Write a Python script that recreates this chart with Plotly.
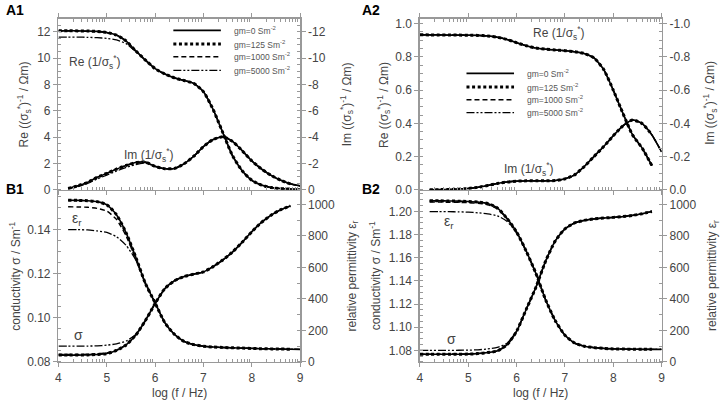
import math
import plotly.graph_objects as go

# ---------------- data ----------------
LOGF = [4.0, 4.2, 4.4, 4.6, 4.8, 5.0, 5.2, 5.4, 5.6, 5.8, 6.0, 6.2, 6.4,
        6.6, 6.8, 7.0, 7.2, 7.4, 7.6, 7.8, 8.0, 8.2, 8.4, 8.6, 8.8, 9.0]

SERIES = ["gm=0 Sm<sup>-2</sup>", "gm=125 Sm<sup>-2</sup>",
          "gm=1000 Sm<sup>-2</sup>", "gm=5000 Sm<sup>-2</sup>"]

# A1: Re(1/sigma*) [Ohm m], Im(1/sigma*) [Ohm m]
A1_RE_0 = [12.08, 12.08, 12.07, 12.06, 12.03, 11.95, 11.75, 11.3, 10.55, 9.85, 9.2, 8.8, 8.5,
           8.3, 8.08, 7.45, 6.1, 4.35, 2.6, 1.45, 0.72, 0.36, 0.17, 0.09, 0.05, 0.03]
A1_RE_125 = A1_RE_0[:-1] + [None]
A1_RE_1000 = [12.06, 12.06, 12.05, 12.04, 12.01, 11.93, 11.74, 11.3] + A1_RE_0[8:]
A1_RE_5000 = [11.6, 11.6, 11.6, 11.58, 11.55, 11.5, 11.38, 11.1, 10.5, 9.83] + A1_RE_0[10:]

A1_IM_0 = [None, -0.1, -0.3, -0.56, -0.95, -1.25, -1.57, -1.85, -2.07, -2.1, -1.78, -1.6, -1.62,
           -1.98, -2.55, -3.28, -3.82, -4.02, -3.68, -2.98, -2.2, -1.58, -1.1, -0.72, -0.45, -0.3]
A1_IM_125 = A1_IM_0[:-1] + [None]
A1_IM_1000 = A1_IM_0[:]
A1_IM_5000 = [None, -0.08, -0.25, -0.48, -0.82, -1.12, -1.42, -1.7, -1.92, -2.03] + A1_IM_0[10:]

# B1: conductivity [S/m], relative permittivity
B1_SIG_0 = [0.0831, 0.0831, 0.0831, 0.0832, 0.0834, 0.0838, 0.0852, 0.0877, 0.0922, 0.0988, 0.1065,
            0.1132, 0.1168, 0.1187, 0.1198, 0.1208, 0.1232, 0.1262, 0.1298, 0.1342, 0.139,
            0.1432, 0.1465, 0.149, 0.1507, None]
B1_SIG_125 = B1_SIG_0[:]
B1_SIG_1000 = [0.0834, 0.0834, 0.0834, 0.0835, 0.0837, 0.0841, 0.0854, 0.0878] + B1_SIG_0[8:]
B1_SIG_5000 = [0.0872, 0.0872, 0.0872, 0.0872, 0.0873, 0.0876, 0.0882, 0.0895, 0.0925] + B1_SIG_0[9:]

B1_EPS_0 = [None, 1027, 1026, 1024, 1018, 998, 935, 820, 665, 498, 375, 250, 175,
            130, 110, 100, 95, 92, 90, 88, 86, 84, 83, 82, 81, 80]
B1_EPS_125 = B1_EPS_0[:-1] + [None]
B1_EPS_1000 = [None, 985, 984, 982, 975, 958, 905, 800, 652, 495] + B1_EPS_0[10:]
B1_EPS_5000 = [None, 840, 840, 838, 832, 822, 795, 740, 648, 505] + B1_EPS_0[10:]

# A2
A2_RE_0 = [0.933, 0.932, 0.932, 0.931, 0.931, 0.930, 0.929, 0.926, 0.918, 0.905, 0.885, 0.867, 0.853,
           0.846, 0.841, 0.837, 0.831, 0.82, 0.794, 0.725, 0.6, 0.46, 0.33, 0.25, 0.145, None]
A2_RE_125 = A2_RE_0[:]
A2_RE_1000 = A2_RE_0[:]
A2_RE_5000 = A2_RE_0[:]

A2_IM_0 = [None, 0.0, -0.001, -0.002, -0.004, -0.008, -0.015, -0.026, -0.038, -0.047, -0.052, -0.054,
           -0.054, -0.054, -0.056, -0.066, -0.09, -0.14, -0.2, -0.26, -0.325, -0.385, -0.42,
           -0.398, -0.33, -0.228]
A2_IM_125 = A2_IM_0[:-1] + [None]
A2_IM_1000 = A2_IM_0[:]
A2_IM_5000 = A2_IM_0[:]

# B2
B2_SIG_0 = [1.0766, 1.0766, 1.0766, 1.0766, 1.0767, 1.0768, 1.0772, 1.0781, 1.0795, 1.0848, 1.0965,
            1.1155, 1.1345, 1.157, 1.1745, 1.1848, 1.19, 1.1922, 1.1935, 1.1942, 1.1948, 1.1955,
            1.1965, 1.198, 1.1999, None]
B2_SIG_125 = B2_SIG_0[:]
B2_SIG_1000 = [1.0768, 1.0768, 1.0768, 1.0768, 1.0769, 1.077, 1.0774, 1.0783, 1.0797, 1.0849] + B2_SIG_0[10:]
B2_SIG_5000 = [1.08, 1.08, 1.08, 1.08, 1.0801, 1.0802, 1.0805, 1.0812, 1.0825, 1.0862] + B2_SIG_0[10:]

B2_EPS_0 = [None, 1023, 1023, 1022, 1021, 1019, 1015, 1006, 978, 912, 825, 703, 562,
            395, 262, 170, 120, 100, 91, 86, 83, 82, 81, 80, 80, 80]
B2_EPS_125 = B2_EPS_0[:-1] + [None]
B2_EPS_1000 = [None, 1015, 1015, 1014, 1013, 1011, 1007, 998, 972, 910] + B2_EPS_0[10:]
B2_EPS_5000 = [None, 955, 955, 954, 953, 951, 947, 940, 928, 893, 818] + B2_EPS_0[11:]

X_TICKS = [4, 5, 6, 7, 8, 9]
A1_LEFT_TICKS = [0, 2, 4, 6, 8, 10, 12]
A1_RIGHT_TICKS = [0, -2, -4, -6, -8, -10, -12]
A2_LEFT_TICKS = [0.0, 0.2, 0.4, 0.6, 0.8, 1.0]
A2_RIGHT_TICKS = [0.0, -0.2, -0.4, -0.6, -0.8, -1.0]
B1_LEFT_TICKS = [0.08, 0.10, 0.12, 0.14]
B2_LEFT_TICKS = [1.08, 1.10, 1.12, 1.14, 1.16, 1.18, 1.20]
EPS_TICKS = [0, 200, 400, 600, 800, 1000]

# ---------------- styling ----------------
W, H = 726, 412
FONT = "Liberation Sans, Arial, sans-serif"
TXT = "#444444"
AX = "#999999"

STYLES = [
    dict(color="black", width=1.6, dash="solid"),
    dict(color="black", width=3.0, dash="3px,2.6px"),
    dict(color="black", width=1.4, dash="5px,3px"),
    dict(color="black", width=1.3, dash="8px,2px,2px,2px,2px,2px"),
]
ORDER = [1, 2, 3, 0]


def px(x):
    return x / W


def py(y):
    return 1 - y / H


XL = [px(56), px(300)]
XR = [px(421), px(665)]
YA = [py(192), py(17)]
YB = [py(368), py(192)]

minor_x = [d + math.log10(k) for d in range(4, 9) for k in range(2, 10)]

fig = go.Figure()


def add_group(series_list, xa, ya):
    for i in ORDER:
        fig.add_trace(go.Scatter(
            x=LOGF, y=series_list[i], mode="lines", name=SERIES[i],
            line=dict(shape="spline", smoothing=0.6, **STYLES[i]),
            xaxis=xa, yaxis=ya, showlegend=False, hoverinfo="skip"))


add_group([A1_RE_0, A1_RE_125, A1_RE_1000, A1_RE_5000], "x", "y")
add_group([A1_IM_0, A1_IM_125, A1_IM_1000, A1_IM_5000], "x", "y2")
add_group([B1_SIG_0, B1_SIG_125, B1_SIG_1000, B1_SIG_5000], "x2", "y3")
add_group([B1_EPS_0, B1_EPS_125, B1_EPS_1000, B1_EPS_5000], "x2", "y4")
add_group([A2_RE_0, A2_RE_125, A2_RE_1000, A2_RE_5000], "x3", "y5")
add_group([A2_IM_0, A2_IM_125, A2_IM_1000, A2_IM_5000], "x3", "y6")
add_group([B2_SIG_0, B2_SIG_125, B2_SIG_1000, B2_SIG_5000], "x4", "y7")
add_group([B2_EPS_0, B2_EPS_125, B2_EPS_1000, B2_EPS_5000], "x4", "y8")

tickfont = dict(family=FONT, size=12, color=TXT)


def xaxis(domain, anchor, labels, mirror):
    return dict(domain=domain, anchor=anchor, range=[4, 9],
                tickmode="array", tickvals=X_TICKS,
                ticktext=[str(v) for v in X_TICKS],
                showticklabels=labels, ticks="outside", ticklen=4, tickwidth=1,
                tickcolor=AX, showline=True, linecolor=AX, linewidth=1.5,
                mirror="ticks" if mirror else False, showgrid=False, zeroline=False,
                tickfont=tickfont,
                minor=dict(tickmode="array", tickvals=minor_x, ticks="inside",
                           ticklen=3, tickcolor=AX, showgrid=False))


def yaxis(domain, anchor, rng, tv, tt, minor_dt, side="left", overlay=None):
    d = dict(domain=domain, anchor=anchor, range=rng, tickmode="array",
             tickvals=tv, ticktext=tt, ticks="outside", ticklen=4, tickcolor=AX,
             showline=True, linecolor=AX, linewidth=1.5, showgrid=False,
             zeroline=False, side=side, tickfont=tickfont,
             minor=dict(dtick=minor_dt, ticks="inside", ticklen=3, tickcolor=AX,
                        showgrid=False))
    if overlay:
        d["overlaying"] = overlay
    return d


fig.update_layout(
    width=W, height=H, margin=dict(l=0, r=0, t=0, b=0),
    paper_bgcolor="white", plot_bgcolor="rgba(0,0,0,0)",
    font=dict(family=FONT, size=12, color=TXT),
    showlegend=False,
    xaxis=xaxis(XL, "y", False, True),
    xaxis2=xaxis(XL, "y3", True, False),
    xaxis3=xaxis(XR, "y5", False, True),
    xaxis4=xaxis(XR, "y7", True, False),
    yaxis=yaxis(YA, "x", [0, 13], A1_LEFT_TICKS, [str(v) for v in A1_LEFT_TICKS], 0.5),
    yaxis2=yaxis(YA, "x", [0, -13], A1_RIGHT_TICKS, [str(v) for v in A1_RIGHT_TICKS], 0.5,
                 side="right", overlay="y"),
    yaxis3=yaxis(YB, "x2", [0.08, 0.158], B1_LEFT_TICKS, ["%.2f" % v for v in B1_LEFT_TICKS], 0.005),
    yaxis4=yaxis(YB, "x2", [0, 1093], EPS_TICKS, [str(v) for v in EPS_TICKS], 100,
                 side="right", overlay="y3"),
    yaxis5=yaxis(YA, "x3", [0, 1.03], A2_LEFT_TICKS, ["%.1f" % v for v in A2_LEFT_TICKS], 0.05),
    yaxis6=yaxis(YA, "x3", [0, -1.03], A2_RIGHT_TICKS,
                 ["0.0"] + ["%.1f" % v for v in A2_RIGHT_TICKS[1:]], 0.05,
                 side="right", overlay="y5"),
    yaxis7=yaxis(YB, "x4", [1.07, 1.2186], B2_LEFT_TICKS, ["%.2f" % v for v in B2_LEFT_TICKS], 0.005),
    yaxis8=yaxis(YB, "x4", [0, 1093], EPS_TICKS, [str(v) for v in EPS_TICKS], 100,
                 side="right", overlay="y7"),
)

ann = []


def text(x, y, s, size=12, angle=0, xanchor="center", color=TXT, bold=False):
    ann.append(dict(x=px(x), y=py(y), xref="paper", yref="paper", text=("<b>%s</b>" % s) if bold else s,
                    showarrow=False, textangle=angle, xanchor=xanchor, yanchor="middle",
                    font=dict(family=FONT, size=size, color=color)))


# panel labels
text(1, 8, "A1", 14, xanchor="left", color="black", bold=True)
text(360, 8, "A2", 14, xanchor="left", color="black", bold=True)
text(1, 191, "B1", 14, xanchor="left", color="black", bold=True)
text(360, 191, "B2", 14, xanchor="left", color="black", bold=True)

# axis titles
re_t = "Re ((σ<sub>s</sub><sup>*</sup>)<sup>-1</sup> / Ωm)"
im_t = "Im ((σ<sub>s</sub><sup>*</sup>)<sup>-1</sup> / Ωm)"
sig_t = "conductivity σ / Sm<sup>-1</sup>"
eps_t = "relative permittivity ε<sub>r</sub>"
text(21, 105, re_t, 12, -90)
text(347, 105, im_t, 12, -90)
text(12, 280, sig_t, 12, -90)
text(353, 280, eps_t, 12, -90)
text(384, 105, re_t, 12, -90)
text(714, 103, im_t, 12, -90)
text(375, 280, sig_t, 12, -90)
text(717, 280, eps_t, 12, -90)
text(178, 400, "log (f / Hz)", 12)
text(543, 400, "log (f / Hz)", 12)

# curve labels
lab = "(1/σ<sub>s</sub><sup>*</sup>)"
text(65, 61, "Re " + lab, 12, xanchor="left")
text(120, 156, "Im " + lab, 12, xanchor="left")
text(533, 32, "Re " + lab, 12, xanchor="left")
text(504, 171, "Im " + lab, 12, xanchor="left")
text(68, 222, "ε<sub>r</sub>", 14, xanchor="left")
text(70, 340, "σ", 14, xanchor="left")
text(443, 225, "ε<sub>r</sub>", 14, xanchor="left")
text(446, 345, "σ", 14, xanchor="left")

# legends (keys drawn as sample lines with the series styles)
shapes = []
for (x0, x1, xt, rows) in [(172, 220, 231, [29, 43, 56, 70]),
                           (468, 516, 527, [73, 87, 100, 113])]:
    for i, yrow in enumerate(rows):
        shapes.append(dict(type="line", xref="paper", yref="paper",
                           x0=px(x0), x1=px(x1), y0=py(yrow), y1=py(yrow),
                           line=STYLES[i]))
        text(xt, yrow, SERIES[i], 8.5, xanchor="left", color="#555555")

fig.update_layout(annotations=ann, shapes=shapes)
fig.write_html("out.html", config={"displayModeBar": False, "staticPlot": True},
               post_script="document.body.style.margin='0';")
